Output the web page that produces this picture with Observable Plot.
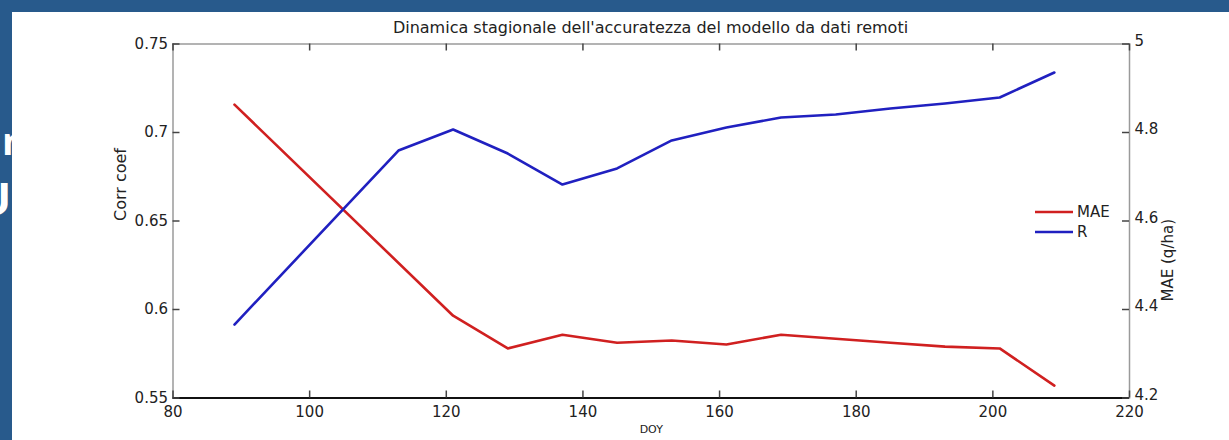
<!DOCTYPE html>
<html>
<head>
<meta charset="utf-8">
<script src="https://cdn.jsdelivr.net/npm/d3@7"></script>
<script src="https://cdn.jsdelivr.net/npm/@observablehq/plot@0.6"></script>
<style>
  html, body { margin: 0; padding: 0; }
  body { width: 1229px; height: 440px; overflow: hidden; background: #285a8c; position: relative; font-family: "DejaVu Sans", sans-serif; }
  .frag { position: absolute; color: #fff; font-family: "Open Sans", sans-serif; font-weight: 700; line-height: 1; white-space: nowrap; }
  #panel { position: absolute; left: 12px; top: 12px; width: 1217px; height: 428px; background: #fff; }
  #title { position: absolute; left: 160px; width: 957px; top: 6px; text-align: center; font-size: 16px; color: #222; }
  #chart { position: absolute; left: 0; top: 24px; }
  #legend { position: absolute; left: 1021px; top: 190px; font-size: 15px; color: #222; }
</style>
</head>
<body>
<div class="frag" style="left:2px; top:121px; font-size:38px;">n</div>
<div class="frag" style="left:-22px; top:176px; font-size:44px;">U</div>
<div id="panel">
  <div id="title">Dinamica stagionale dell'accuratezza del modello da dati remoti</div>
  <div id="chart"></div>
  <div id="legend"></div>
</div>
<script>
// ---- data ----
const doyR = [89, 113, 121, 129, 137, 145, 153, 161, 169, 177, 185, 193, 201, 209];
const corrR = [0.5915, 0.6898, 0.7017, 0.6881, 0.6706, 0.6797, 0.6955, 0.7028, 0.7085, 0.7102, 0.7136, 0.7164, 0.7198, 0.7339];
const doyMAE = [89, 121, 129, 137, 145, 153, 161, 169, 177, 185, 193, 201, 209];
const maeVals = [4.863, 4.386, 4.312, 4.343, 4.325, 4.330, 4.321, 4.343, 4.334, 4.325, 4.316, 4.312, 4.228];
const xTicks = [80, 100, 120, 140, 160, 180, 200, 220];
const leftTicks = [0.55, 0.6, 0.65, 0.7, 0.75];
const rightTicks = [4.2, 4.4, 4.6, 4.8, 5];
const xDomain = [80, 220];
const yDomain = [0.55, 0.75];
const maeDomain = [4.2, 5];
const seriesNames = ["MAE", "R"];
const seriesColors = ["#d02020", "#2020c0"];

// map MAE onto the left (corr) scale
const toLeft = m => yDomain[0] + (m - maeDomain[0]) / (maeDomain[1] - maeDomain[0]) * (yDomain[1] - yDomain[0]);
const rTable = doyR.map((d, i) => ({doy: d, v: corrR[i]}));
const maeTable = doyMAE.map((d, i) => ({doy: d, v: toLeft(maeVals[i])}));
const rightLabel = d => {
  const i = leftTicks.findIndex(t => Math.abs(t - d) < 1e-9);
  return i >= 0 ? String(rightTicks[i]) : "";
};

const W = 1217, H = 404, mL = 160.5, mR = 100, mT = 7.5, mB = 42.5;
const innerW = W - mL - mR, innerH = H - mT - mB, tickLen = 7;
const tickStyle = {stroke: "#444", strokeWidth: 1.5};

const chart = Plot.plot({
  width: W,
  height: H,
  marginLeft: mL,
  marginRight: mR,
  marginTop: mT,
  marginBottom: mB,
  style: {fontFamily: "DejaVu Sans, sans-serif", fontSize: "15px", color: "#222", background: "white", overflow: "visible"},
  x: {domain: xDomain},
  y: {domain: yDomain},
  marks: [
    Plot.frame({stroke: "#9a9a9a", strokeWidth: 1.5}),
    Plot.ruleY([yDomain[0]], {stroke: "#111", strokeWidth: 2}),
    // inward tick marks on all four sides
    Plot.ruleY(leftTicks, {y: d => d, insetRight: innerW - tickLen, ...tickStyle}),
    Plot.ruleY(leftTicks, {y: d => d, insetLeft: innerW - tickLen, ...tickStyle}),
    Plot.ruleX(xTicks, {x: d => d, insetTop: innerH - tickLen, ...tickStyle}),
    Plot.ruleX(xTicks, {x: d => d, insetBottom: innerH - tickLen, ...tickStyle}),
    // tick labels
    Plot.axisY({anchor: "left", ticks: leftTicks, tickSize: 0, tickPadding: 5, tickFormat: d => String(d), label: null}),
    Plot.axisY({anchor: "right", ticks: leftTicks, tickSize: 0, dy: -3, tickPadding: 5, tickFormat: rightLabel, label: null}),
    Plot.axisX({anchor: "bottom", ticks: xTicks, tickSize: 0, tickPadding: 8, tickFormat: d => String(d), label: null}),
    // data lines
    Plot.line(maeTable, {x: "doy", y: "v", stroke: seriesColors[0], strokeWidth: 2.6}),
    Plot.line(rTable, {x: "doy", y: "v", stroke: seriesColors[1], strokeWidth: 2.6}),
    // axis titles
    Plot.text(["Corr coef"], {frameAnchor: "left", rotate: -90, dx: -52, fontSize: 16, fill: "#222"}),
    Plot.text(["MAE (q/ha)"], {frameAnchor: "right", rotate: -90, dx: 39, dy: -2, fontSize: 15, fill: "#222"}),
    Plot.text(["DOY"], {frameAnchor: "bottom", dy: 35, fontSize: 11, fill: "#222"})
  ]
});
document.getElementById("chart").appendChild(chart);

// legend
const ns = "http://www.w3.org/2000/svg";
const lg = document.createElementNS(ns, "svg");
lg.setAttribute("width", 100);
lg.setAttribute("height", 50);
seriesNames.forEach((name, i) => {
  const y = 10 + i * 20;
  const ln = document.createElementNS(ns, "line");
  ln.setAttribute("x1", 2); ln.setAttribute("x2", 40);
  ln.setAttribute("y1", y); ln.setAttribute("y2", y);
  ln.setAttribute("stroke", seriesColors[i]);
  ln.setAttribute("stroke-width", 2.6);
  lg.appendChild(ln);
  const t = document.createElementNS(ns, "text");
  t.setAttribute("x", 44); t.setAttribute("y", y + 5);
  t.setAttribute("font-family", "DejaVu Sans, sans-serif");
  t.setAttribute("font-size", 15);
  t.setAttribute("fill", "#222");
  t.textContent = name;
  lg.appendChild(t);
});
document.getElementById("legend").appendChild(lg);
</script>
</body>
</html>
